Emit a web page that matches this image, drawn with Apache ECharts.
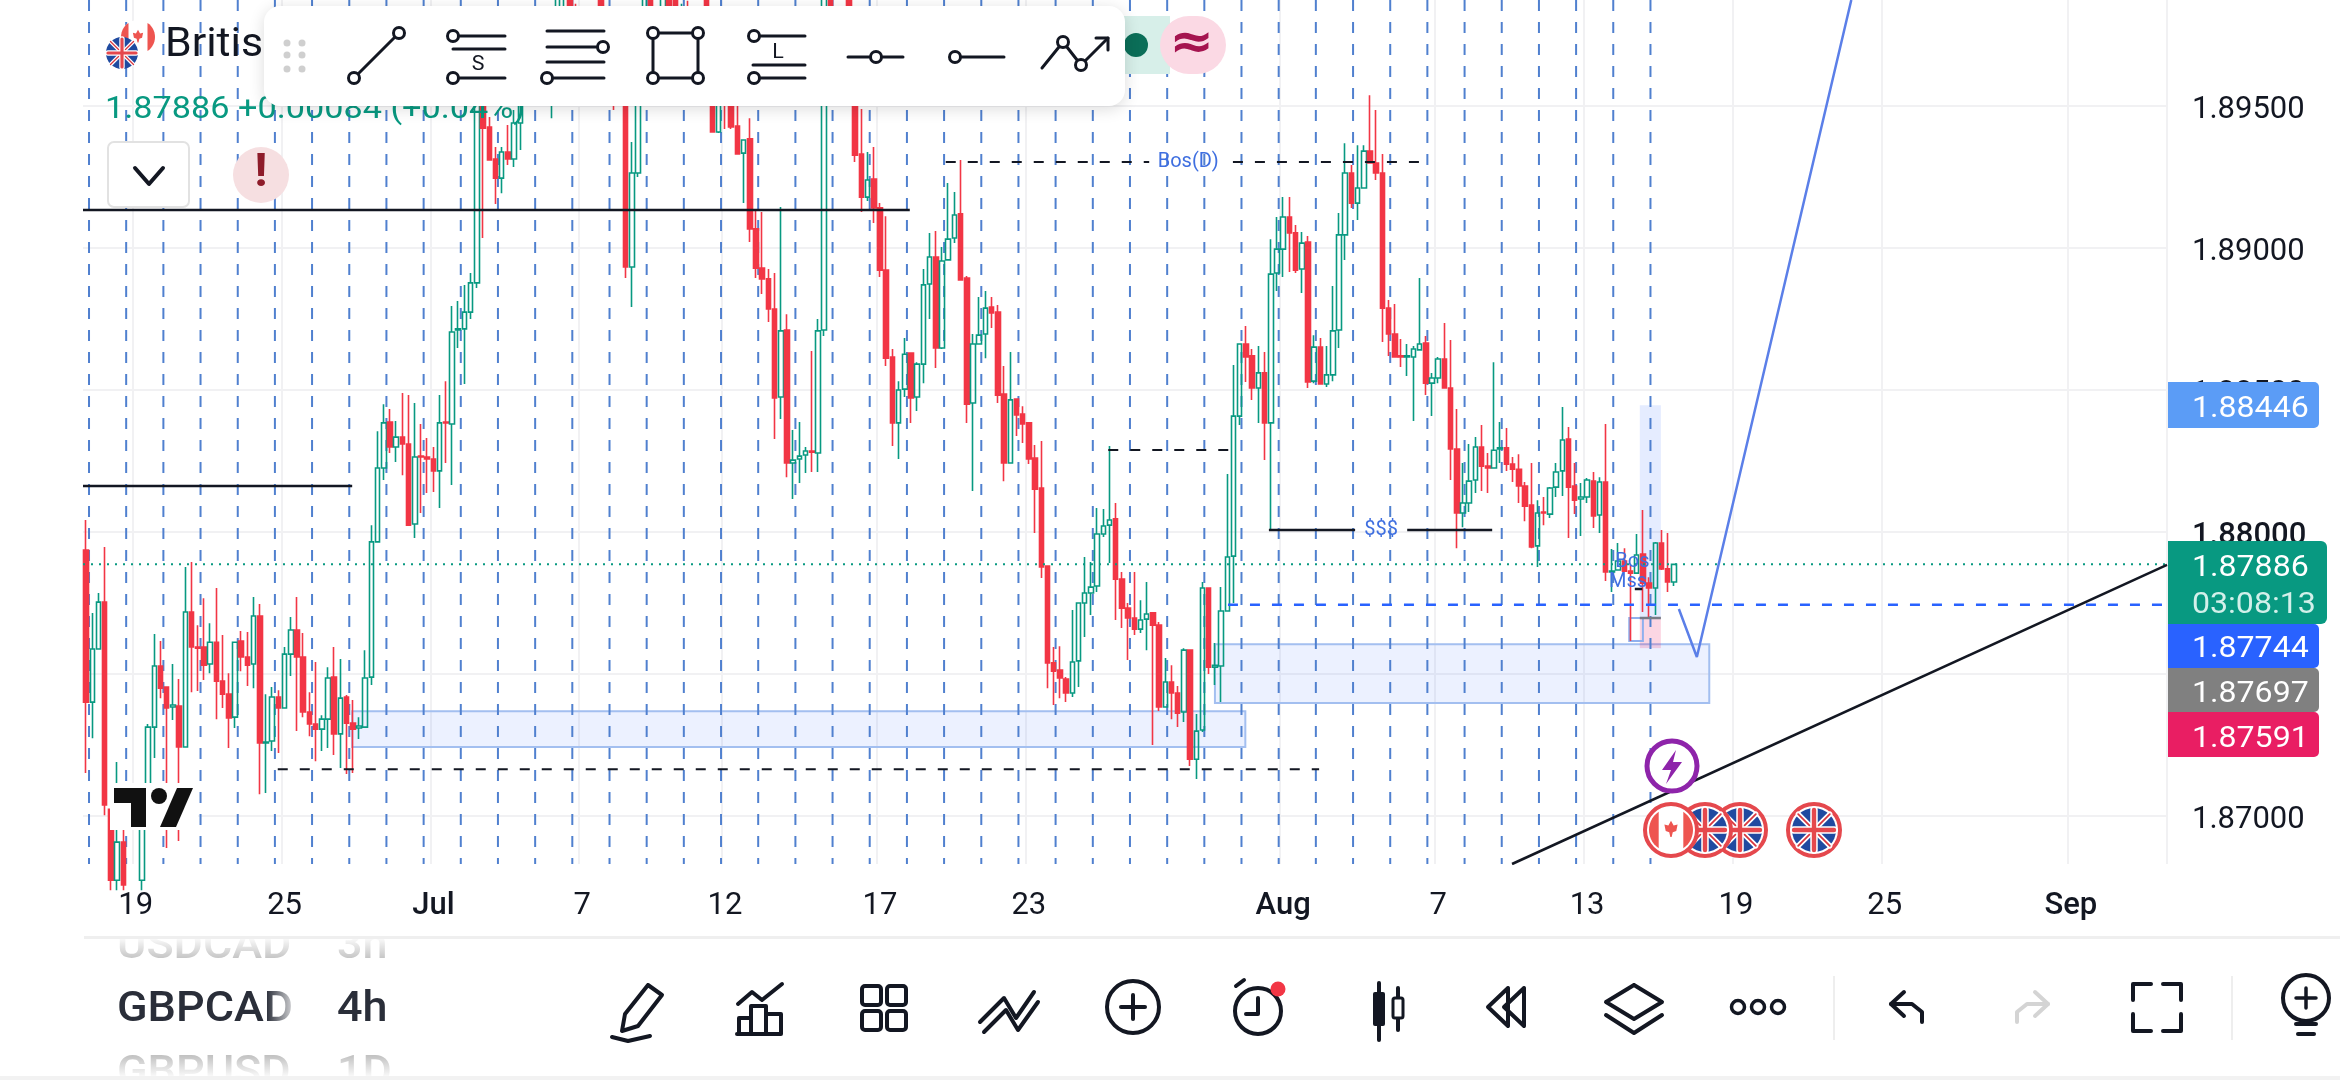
<!DOCTYPE html>
<html><head><meta charset="utf-8">
<style>html,body{margin:0;padding:0;background:#fff;overflow:hidden}#c{width:2340px;height:1080px}</style>
<script src="https://cdn.jsdelivr.net/npm/echarts@6/dist/echarts.min.js"></script>
</head><body><div id="c"></div>
<script>
const priceTicks=[1.87,1.875,1.88,1.885,1.89,1.895];
const dateTickBars=[8,32,56,80,103,128,152,193,218,242,266,290,320];
const dateTickLabels=['19','25','Jul','7','12','17','23','Aug','7','13','19','25','Sep'];
const opens=[1.87936,1.87401,1.87588,1.87753,1.87024,1.86774,1.86908,1.86810,1.86774,1.86774,
1.87056,1.87313,1.87528,1.87454,1.87384,1.87387,1.87243,1.87718,1.87595,1.87595,
1.87535,1.87612,1.87475,1.87429,1.87348,1.87616,1.87560,1.87535,1.87704,1.87257,
1.87264,1.87419,1.87380,1.87570,1.87655,1.87560,1.87366,1.87324,1.87306,1.87341,
1.87489,1.87289,1.87419,1.87327,1.87310,1.87313,1.87489,1.87965,1.88225,1.88387,
1.88299,1.88334,1.88310,1.88028,1.88267,1.88264,1.88257,1.88215,1.88387,1.88380,
1.88711,1.88715,1.88774,1.88877,1.89574,1.89426,1.89313,1.89246,1.89338,1.89313,
1.89440,1.89538,1.89530,1.89620,1.89700,1.89600,1.89760,1.89900,1.89960,1.89830,
1.89720,1.89780,1.89660,1.89900,1.89640,1.89690,1.89560,1.89538,1.88933,1.89264,
1.89540,1.89900,1.89730,1.89660,1.89930,1.89920,1.89780,1.89840,1.89720,1.89780,
1.89900,1.89538,1.89408,1.89560,1.89530,1.89429,1.89334,1.89384,1.89067,1.88929,
1.88891,1.88785,1.88475,1.88711,1.88243,1.88257,1.88271,1.88285,1.88278,1.88711,
1.89900,1.89720,1.89640,1.89900,1.89660,1.89331,1.89179,1.89243,1.89141,1.88922,
1.88616,1.88384,1.88503,1.88630,1.88475,1.88591,1.88873,1.88968,1.88648,1.88958,
1.89035,1.89120,1.88894,1.88454,1.88662,1.88697,1.88792,1.88774,1.88486,1.88243,
1.88468,1.88415,1.88384,1.88260,1.88155,1.87880,1.87539,1.87514,1.87482,1.87433,
1.87546,1.87750,1.87785,1.87810,1.87993,1.88024,1.88046,1.87834,1.87732,1.87697,
1.87658,1.87693,1.87715,1.87672,1.87384,1.87472,1.87433,1.87366,1.87584,1.87200,
1.87303,1.87803,1.87524,1.87528,1.87722,1.87915,1.88408,1.88662,1.88620,1.88507,
1.88560,1.88384,1.88912,1.88996,1.89109,1.89053,1.88926,1.89021,1.88531,1.88651,
1.88521,1.88553,1.88711,1.89046,1.89264,1.89158,1.89211,1.89341,1.89299,1.89264,
1.88788,1.88697,1.88620,1.88616,1.88616,1.88641,1.88665,1.88524,1.88542,1.88609,
1.88507,1.88292,1.88067,1.88102,1.88183,1.88299,1.88232,1.88225,1.88292,1.88296,
1.88239,1.88221,1.88162,1.88095,1.87951,1.88070,1.88063,1.88158,1.88215,1.88327,
1.88162,1.88116,1.88123,1.88179,1.88060,1.88176,1.87859,1.87866,1.87898,1.87862,
1.87855,1.87922,1.87820,1.87803,1.87961,1.87870,1.87824];
const highs=[1.88042,1.87715,1.87785,1.87947,1.87024,1.87190,1.86975,1.86830,1.86830,1.87091,
1.87324,1.87641,1.87616,1.87454,1.87535,1.87482,1.87877,1.87894,1.87672,1.87767,
1.87679,1.87803,1.87637,1.87503,1.87612,1.87651,1.87648,1.87771,1.87746,1.87429,
1.87454,1.87443,1.87595,1.87701,1.87771,1.87644,1.87436,1.87542,1.87355,1.87524,
1.87595,1.87553,1.87426,1.87408,1.87348,1.87584,1.88024,1.88355,1.88450,1.88433,
1.88391,1.88489,1.88482,1.88454,1.88380,1.88331,1.88299,1.88482,1.88531,1.88796,
1.88813,1.88870,1.88912,1.89609,1.89609,1.89461,1.89355,1.89355,1.89433,1.89486,
1.89574,1.89600,1.89650,1.89730,1.89740,1.89780,1.89950,1.89990,1.90000,1.89860,
1.89800,1.89820,1.89720,1.89980,1.89720,1.89730,1.89620,1.89574,1.89373,1.89574,
1.89950,1.89940,1.89760,1.89960,1.89990,1.89980,1.89860,1.89870,1.89800,1.89840,
1.89980,1.89600,1.89600,1.89620,1.89600,1.89521,1.89380,1.89457,1.89137,1.89127,
1.88926,1.88912,1.89144,1.88767,1.88359,1.88387,1.88299,1.88637,1.88750,1.89950,
1.89950,1.89760,1.89720,1.89980,1.89700,1.89489,1.89338,1.89355,1.89158,1.89112,
1.88644,1.88531,1.88683,1.88630,1.88598,1.88926,1.89053,1.89060,1.89003,1.89229,
1.89197,1.89310,1.88901,1.88697,1.88827,1.88848,1.88827,1.88799,1.88584,1.88634,
1.88468,1.88443,1.88387,1.88306,1.88320,1.87880,1.87595,1.87598,1.87489,1.87725,
1.87750,1.87912,1.87894,1.88084,1.88081,1.88303,1.88102,1.87859,1.87750,1.87859,
1.87760,1.87824,1.87715,1.87683,1.87556,1.87531,1.87458,1.87591,1.87584,1.87359,
1.87824,1.87803,1.87609,1.87806,1.88204,1.88588,1.88662,1.88725,1.88644,1.88655,
1.88634,1.89031,1.89109,1.89179,1.89179,1.89081,1.89056,1.89042,1.88693,1.88683,
1.88655,1.88866,1.89123,1.89369,1.89292,1.89362,1.89362,1.89538,1.89486,1.89331,
1.88817,1.88803,1.88679,1.88662,1.88655,1.88894,1.88690,1.88560,1.88616,1.88736,
1.88676,1.88433,1.88243,1.88310,1.88334,1.88377,1.88278,1.88598,1.88387,1.88366,
1.88264,1.88274,1.88176,1.88243,1.88112,1.88123,1.88158,1.88243,1.88440,1.88370,
1.88243,1.88172,1.88190,1.88211,1.88193,1.88380,1.87940,1.87961,1.87943,1.87884,
1.87993,1.88077,1.87841,1.87965,1.88007,1.87996,1.87886];
const lows=[1.87151,1.87274,1.87588,1.87003,1.86739,1.86739,1.86739,1.86740,1.86740,1.86739,
1.87056,1.87204,1.87415,1.86887,1.87338,1.86912,1.87243,1.87436,1.87440,1.87479,
1.87503,1.87341,1.87380,1.87239,1.87310,1.87510,1.87458,1.87450,1.87077,1.87081,
1.87229,1.87222,1.87380,1.87493,1.87299,1.87348,1.87281,1.87193,1.87229,1.87239,
1.87215,1.87169,1.87148,1.87151,1.87271,1.87313,1.87461,1.87965,1.88183,1.88278,
1.88246,1.88200,1.88024,1.87979,1.88067,1.88137,1.88141,1.88084,1.88243,1.88165,
1.88648,1.88521,1.88750,1.88859,1.89035,1.89310,1.89155,1.89193,1.89292,1.89285,
1.89345,1.89520,1.89515,1.89600,1.89560,1.89457,1.89700,1.89820,1.89800,1.89700,
1.89680,1.89640,1.89590,1.89600,1.89610,1.89486,1.89530,1.88894,1.88792,1.89250,
1.89520,1.89700,1.89640,1.89640,1.89800,1.89760,1.89740,1.89700,1.89680,1.89640,
1.89640,1.89408,1.89405,1.89419,1.89419,1.89331,1.89158,1.89021,1.88894,1.88838,
1.88739,1.88327,1.88398,1.88193,1.88116,1.88172,1.88208,1.88211,1.88211,1.88690,
1.89700,1.89600,1.89600,1.89620,1.89303,1.89127,1.89165,1.89088,1.88898,1.88584,
1.88303,1.88257,1.88475,1.88384,1.88426,1.88524,1.88750,1.88577,1.88644,1.88958,
1.89017,1.88887,1.88384,1.88144,1.88662,1.88612,1.88718,1.88454,1.88179,1.88243,
1.88338,1.88313,1.88239,1.87996,1.87838,1.87450,1.87391,1.87415,1.87401,1.87419,
1.87454,1.87630,1.87708,1.87789,1.87982,1.87891,1.87690,1.87662,1.87549,1.87637,
1.87644,1.87584,1.87250,1.87370,1.87384,1.87341,1.87313,1.87331,1.87176,1.87130,
1.87296,1.87500,1.87461,1.87401,1.87722,1.87750,1.88377,1.88528,1.88465,1.88384,
1.88253,1.88007,1.88848,1.88898,1.88915,1.88912,1.88841,1.88507,1.88524,1.88521,
1.88510,1.88531,1.88648,1.88958,1.89141,1.89098,1.89211,1.89299,1.89239,1.88669,
1.88620,1.88616,1.88581,1.88549,1.88391,1.88641,1.88482,1.88408,1.88524,1.88507,
1.88183,1.87943,1.88017,1.88070,1.88137,1.88144,1.88137,1.88225,1.88243,1.88215,
1.88176,1.88102,1.88038,1.87943,1.87877,1.88024,1.88049,1.88123,1.88127,1.87979,
1.88063,1.87986,1.88102,1.88014,1.87996,1.87827,1.87789,1.87866,1.87859,1.87616,
1.87855,1.87718,1.87697,1.87708,1.87866,1.87789,1.87810];
const closes=[1.87401,1.87588,1.87753,1.87039,1.86774,1.86908,1.86757,1.86774,1.86810,1.87056,
1.87313,1.87528,1.87450,1.87380,1.87391,1.87243,1.87718,1.87595,1.87591,1.87531,
1.87612,1.87475,1.87429,1.87345,1.87612,1.87560,1.87531,1.87704,1.87257,1.87260,
1.87419,1.87380,1.87570,1.87655,1.87560,1.87366,1.87324,1.87306,1.87341,1.87486,
1.87289,1.87415,1.87327,1.87306,1.87317,1.87486,1.87965,1.88225,1.88384,1.88299,
1.88334,1.88310,1.88024,1.88264,1.88264,1.88257,1.88215,1.88384,1.88384,1.88704,
1.88715,1.88774,1.88877,1.89574,1.89422,1.89310,1.89246,1.89338,1.89313,1.89440,
1.89538,1.89530,1.89620,1.89700,1.89600,1.89760,1.89900,1.89960,1.89830,1.89720,
1.89780,1.89660,1.89610,1.89640,1.89690,1.89560,1.89600,1.88933,1.89264,1.89538,
1.89900,1.89730,1.89660,1.89930,1.89830,1.89780,1.89840,1.89720,1.89780,1.89680,
1.89700,1.89408,1.89560,1.89530,1.89426,1.89331,1.89380,1.89067,1.88929,1.88891,
1.88785,1.88472,1.88708,1.88243,1.88253,1.88267,1.88285,1.88281,1.88708,1.89900,
1.89720,1.89640,1.89690,1.89660,1.89327,1.89179,1.89239,1.89141,1.88922,1.88612,
1.88384,1.88500,1.88626,1.88472,1.88591,1.88870,1.88968,1.88648,1.88954,1.89031,
1.89116,1.88887,1.88450,1.88662,1.88693,1.88788,1.88771,1.88482,1.88243,1.88465,
1.88412,1.88380,1.88257,1.88151,1.87877,1.87539,1.87510,1.87486,1.87433,1.87542,
1.87750,1.87785,1.87806,1.87993,1.88021,1.88042,1.87834,1.87732,1.87697,1.87658,
1.87690,1.87711,1.87672,1.87384,1.87472,1.87433,1.87362,1.87584,1.87200,1.87299,
1.87803,1.87524,1.87531,1.87722,1.87912,1.88408,1.88662,1.88616,1.88507,1.88560,
1.88384,1.88908,1.88996,1.89109,1.89053,1.88922,1.89017,1.88528,1.88651,1.88521,
1.88553,1.88708,1.89046,1.89264,1.89158,1.89211,1.89341,1.89299,1.89264,1.88788,
1.88697,1.88616,1.88616,1.88620,1.88644,1.88662,1.88524,1.88542,1.88609,1.88507,
1.88292,1.88067,1.88102,1.88179,1.88299,1.88232,1.88225,1.88288,1.88296,1.88239,
1.88221,1.88162,1.88091,1.87947,1.88067,1.88067,1.88155,1.88211,1.88324,1.88158,
1.88112,1.88123,1.88183,1.88056,1.88176,1.87859,1.87862,1.87898,1.87862,1.87855,
1.87919,1.87820,1.87803,1.87961,1.87870,1.87824,1.87886];
const dayBreaks=[0.97,6.96,12.96,18.95,24.95,30.94,36.93,42.93,48.92,54.92,60.91,66.9,72.9,78.89,84.89,90.88,96.87,102.87,108.86,114.86,120.85,126.84,132.84,138.83,144.83,150.82,156.81,162.81,168.8,174.8,180.79,186.78,192.78,198.77,204.77,210.76,216.75,222.75,228.74,234.74,240.73,246.72,252.72];
const lastPrice=1.87886, alertPrice=1.87744;
const zoneEdges=[[43.4,1.87369,187.4,1.87243],[182.5,1.87605,262.2,1.87398],[251.0,1.88446,254.4,1.87697],[251.0,1.87697,254.4,1.87591],[249.3,1.87697,251.5,1.87616]];
const zoneFills=['rgba(41,98,255,0.09)','rgba(41,98,255,0.09)','rgba(41,98,255,0.12)','rgba(233,30,99,0.18)','rgba(0,0,0,0)'];
const zoneStrokes=['#a3bff0','#a3bff0',null,null,'#8fb0ee'];
const noteTexts=['Bos(D)','$$$','Bos','Mss'];
const noteBars=[178.2,209.3,249.8,249.1];
const notePrices=[1.89303,1.88007,1.87894,1.87824];

const yMin=1.86831,yMax=1.89873,barCount=336;
const categories=new Array(barCount).fill('');
dateTickBars.forEach((b,i)=>categories[b]=dateTickLabels[i]);
const candles=opens.map((o,i)=>[o,closes[i],lows[i],highs[i]]);
const seg=(pts,color,width,type)=>({type:'line',xAxisIndex:1,yAxisIndex:0,data:pts,symbol:'none',silent:true,z:5,clip:true,animation:false,lineStyle:{color,width,type:type||'solid'}});
const black='#131722';

/* overlay helpers */
const Z=100;
const pl=(pts,c='#131722',w=4)=>({type:'polyline',z:Z,shape:{points:pts},style:{stroke:c,lineWidth:w,fill:null,lineCap:'round',lineJoin:'round'}});
const ci=(x,y,r,fill='#fff',c='#131722',w=3)=>({type:'circle',z:Z,shape:{cx:x,cy:y,r},style:{fill,stroke:c,lineWidth:w}});
const re=(x,y,w,h,fill,r=0,extra={})=>({type:'rect',z:Z,shape:{x,y,width:w,height:h,r},style:Object.assign({fill},extra)});
const po=(pts,fill)=>({type:'polygon',z:Z,shape:{points:pts},style:{fill}});
const tx=(x,y,text,font,fill,align='left')=>({type:'text',z:Z,x,y:y+3,scaleX:1.07,style:{text,font,fill,textAlign:align,textVerticalAlign:'middle',align,verticalAlign:'middle'}});
function ukFlag(x,y,r,ring){
  const n=[];
  if(ring){n.push(ci(x,y,r+4,'#fff','#e5484d',4));}
  const d=r*0.72;
  n.push(ci(x,y,r,'#1f4aa0',null,0));
  n.push(pl([[x-d,y-d],[x+d,y+d]],'#fff',r*0.24),pl([[x-d,y+d],[x+d,y-d]],'#fff',r*0.24));
  n.push(pl([[x-d,y-d],[x+d,y+d]],'#d9363e',r*0.08),pl([[x-d,y+d],[x+d,y-d]],'#d9363e',r*0.08));
  n.push(pl([[x-r+2,y],[x+r-2,y]],'#fff',r*0.34),pl([[x,y-r+2],[x,y+r-2]],'#fff',r*0.34));
  n.push(pl([[x-r+2,y],[x+r-2,y]],'#e5484d',r*0.2),pl([[x,y-r+2],[x,y+r-2]],'#e5484d',r*0.2));
  return n;
}
function caSeg(x,y,r,s){
  const pts=[];
  for(let a=-56;a<=56;a+=8){pts.push([x+s*r*Math.cos(a*Math.PI/180),y+r*Math.sin(a*Math.PI/180)]);}
  return po(pts,'#ee5550');
}
function caFlag(x,y,r,ring){
  const n=[];
  if(ring){n.push(ci(x,y,r+4,'#fff','#e5484d',4));}
  else n.push(ci(x,y,r,'#fff',null,0));
  n.push(caSeg(x,y,r,1),caSeg(x,y,r,-1),
   po([[x,y-r*.42],[x+r*.12,y-r*.2],[x+r*.3,y-r*.25],[x+r*.24,y+r*.05],[x+r*.08,y+r*.1],[x+r*.03,y+r*.32],[x-r*.03,y+r*.32],[x-r*.08,y+r*.1],[x-r*.24,y+r*.05],[x-r*.3,y-r*.25],[x-r*.12,y-r*.2]],'#ee5550'));
  return n;
}
const G=[];
/* legend */
G.push(...caFlag(138,37,17,false),...ukFlag(122,53,16,false));
G.push(tx(165,43,'British Pound','40px Roboto','#131722'));
G.push(tx(105,107,'1.87886 +0.00084 (+0.04%)','32px Roboto','#089981'));
/* pills behind the toolbar */
G.push(re(1100,16,70,58,'#d7efe9',0));
G.push(ci(1136,45,12,'#0b6e58',null,0));
G.push(re(1160,16,66,58,'#fbd9e4',29));
G.push(tx(1192,42,'\u2248','bold 50px "DejaVu Sans"','#a5144f','center'));
/* toolbar */
G.push(re(264,6,861,100,'#fff',16,{shadowBlur:16,shadowColor:'rgba(0,0,0,0.14)',shadowOffsetY:3}));
[[287,43],[302,43],[287,55],[302,55],[287,69],[302,69]].forEach(p=>G.push(ci(p[0],p[1],3.5,'#cfcfcf',null,0)));
const T='#131722';
G.push(pl([[399,33],[354,78]],T,3),ci(399,33,5.5),ci(354,78,5.5));
G.push(pl([[453,36],[505,36]],T,3),pl([[453,49],[505,49]],T,3),pl([[453,78],[505,78]],T,3),ci(453,36,5.5),ci(453,78,5.5),tx(478,62,'S','20px Roboto',T,'center'));
G.push(pl([[547,31],[604,31]],T,3),pl([[547,47],[604,47]],T,3),pl([[547,62],[604,62]],T,3),pl([[547,78],[604,78]],T,3),ci(603,47,5.5),ci(547,78,5.5));
G.push(pl([[653,33],[698,33],[698,78],[653,78],[653,33]],T,3),ci(653,33,5.5),ci(698,33,5.5),ci(653,78,5.5),ci(698,78,5.5));
G.push(pl([[754,36],[805,36]],T,3),pl([[753,65],[805,65]],T,3),pl([[754,78],[805,78]],T,3),ci(754,36,5.5),ci(754,78,5.5),tx(778,50,'L','20px Roboto',T,'center'));
G.push(pl([[848,57],[903,57]],T,3),ci(876,57,5.5));
G.push(pl([[955,57],[1004,57]],T,3),ci(955,57,5.5));
G.push(pl([[1042,68],[1063,42],[1081,65],[1108,38]],T,3),pl([[1096,38],[1108,38],[1108,50]],T,3),ci(1063,42,5.5),ci(1081,65,5.5));
/* chevron + alert */
G.push(re(108,142,81,65,'#fff',6,{stroke:'#e2e2e2',lineWidth:2}));
G.push(pl([[135,168],[149,184],[163,168]],'#131722',4));
G.push(ci(261,175,28,'#f6dfe1',null,0),tx(261,171,'!','bold 46px Roboto','#8e1c2a','center'));
/* TradingView mark */
G.push(re(110,783,88,47,'#fff'));
G.push(po([[114,788],[146,788],[146,827],[131,827],[131,803],[114,803]],'#111'),ci(159,796,8,'#111',null,0),po([[177,788],[193,788],[176,827],[160,827]],'#111'));
/* events */
G.push(ci(1672,766,25,'#fff','#8e24aa',5),po([[1676,750],[1662,770],[1671,770],[1666,784],[1682,762],[1673,762]],'#8e24aa'));
G.push(...ukFlag(1814,830,22,true),...ukFlag(1740,830,22,true),...ukFlag(1705,830,22,true),...caFlag(1671,830,22,true));
/* price tags */
G.push(re(2168,382,151,46,'#5b9cf6',[0,5,5,0]),tx(2192,406,'1.88446','30px Roboto','#fff'));
G.push(re(2168,624,151,44,'#2962ff',[0,5,5,0]),tx(2192,646,'1.87744','30px Roboto','#fff'));
G.push(re(2168,668,151,44,'#808080',[0,5,5,0]),tx(2192,691,'1.87697','30px Roboto','#fff'));
G.push(re(2168,712,151,45,'#e91e63',[0,5,5,0]),tx(2192,736,'1.87591','30px Roboto','#fff'));
G.push(re(2168,541,159,83,'#089981',[0,6,6,0]),tx(2192,565,'1.87886','30px Roboto','#fff'),tx(2192,602,'03:08:13','30px Roboto','#d3f0ea'));
/* footer */
G.push(tx(117,944,'USDCAD','500 42px Roboto','#b9b9b9'),tx(337,944,'3h','500 42px Roboto','#b9b9b9'));
G.push({type:'rect',z:Z,shape:{x:84,y:939,width:330,height:24},style:{fill:{type:'linear',x:0,y:0,x2:0,y2:1,colorStops:[{offset:0,color:'rgba(255,255,255,0.9)'},{offset:1,color:'rgba(255,255,255,0)'}]}}});
G.push(re(84,915,330,21,'#fff'));
G.push(re(84,936,2256,3,'#efefef'));
G.push(tx(117,1007,'GBPCAD','500 42px Roboto','#2a2e39'),tx(337,1007,'4h','500 42px Roboto','#2a2e39'));
G.push({type:'rect',z:Z,shape:{x:266,y:980,width:34,height:54},style:{fill:{type:'linear',x:0,y:0,x2:1,y2:0,colorStops:[{offset:0,color:'rgba(255,255,255,0)'},{offset:1,color:'rgba(255,255,255,1)'}]}}});
G.push(tx(117,1071,'GBPUSD','500 42px Roboto','#b9b9b9'),tx(337,1071,'1D','500 42px Roboto','#b9b9b9'));
G.push({type:'rect',z:Z,shape:{x:84,y:1052,width:330,height:24},style:{fill:{type:'linear',x:0,y:0,x2:0,y2:1,colorStops:[{offset:0,color:'rgba(255,255,255,0)'},{offset:1,color:'rgba(255,255,255,0.9)'}]}}});
G.push(re(0,1076,2340,4,'#f2f2f2'));
/* footer icons */
const I='#131722';
G.push(pl([[648,985],[662,995],[638,1026],[622,1031],[625,1014],[648,985]],I,4),pl([[612,1037],[628,1041],[650,1036]],I,4));
G.push(pl([[738,1004],[752,992],[762,1000],[782,984]],I,4),pl([[739,1034],[739,1018],[751,1018],[751,1034]],I,4),pl([[751,1034],[751,1006],[766,1006],[766,1034]],I,4),pl([[766,1034],[766,1014],[781,1014],[781,1034],[737,1034]],I,4));
[[862,986],[887,986],[862,1011],[887,1011]].forEach(p=>G.push(re(p[0],p[1],19,19,'rgba(0,0,0,0)',3,{stroke:I,lineWidth:4})));
G.push(pl([[980,1022],[1004,998],[1016,1018],[1034,992]],I,4),pl([[984,1032],[1006,1010],[1018,1030],[1038,1002]],I,4));
G.push(ci(1133,1007,26,'#fff',I,4),pl([[1133,995],[1133,1019]],I,4),pl([[1121,1007],[1145,1007]],I,4));
G.push(ci(1258,1011,23,'#fff',I,4),pl([[1258,998],[1258,1014],[1246,1014]],I,4),pl([[1236,986],[1244,980]],I,4),ci(1278,989,7.5,'#f23645',null,0));
G.push(pl([[1379,983],[1379,1040]],I,4),re(1373,992,12,34,I,2),pl([[1398,988],[1398,1030]],I,4),re(1393,998,10,20,'#fff',2,{stroke:I,lineWidth:3}));
G.push(pl([[1508,988],[1488,1007],[1508,1026],[1508,988]],I,4),pl([[1524,988],[1504,1007],[1524,1026],[1524,988]],I,4));
G.push(pl([[1634,985],[1662,1002],[1634,1019],[1606,1002],[1634,985]],I,4),pl([[1606,1015],[1634,1033],[1662,1015]],I,4));
G.push(ci(1738,1007,6.5,'#fff',I,3.5),ci(1758,1007,6.5,'#fff',I,3.5),ci(1778,1007,6.5,'#fff',I,3.5));
G.push(re(1833,976,2,64,'#eeeeee'),re(2231,976,2,64,'#eeeeee'));
G.push(pl([[1904,992],[1891,1004],[1904,1016]],I,4),pl([[1891,1004],[1912,1004],[1922,1012],[1922,1022]],I,4));
const R='#d4d4d4';
G.push(pl([[2035,992],[2048,1004],[2035,1016]],R,4),pl([[2048,1004],[2027,1004],[2017,1012],[2017,1022]],R,4));
G.push(pl([[2133,1000],[2133,984],[2151,984]],I,4),pl([[2163,984],[2181,984],[2181,1000]],I,4),pl([[2133,1014],[2133,1031],[2151,1031]],I,4),pl([[2163,1031],[2181,1031],[2181,1014]],I,4));
G.push(ci(2306,998,23,'#fff',I,4),pl([[2306,988],[2306,1008]],I,3.5),pl([[2296,998],[2316,998]],I,3.5),pl([[2296,1024],[2316,1024]],I,4),pl([[2298,1034],[2314,1034]],I,4));

const option={
 animation:false,backgroundColor:'#fff',
 grid:{left:83,top:0,width:2084,height:864,containLabel:false},
 xAxis:[
  {type:'category',data:categories,boundaryGap:true,position:'bottom',
   axisLine:{show:false},axisTick:{show:false},
   splitLine:{show:true,interval:(i,v)=>v!=='',lineStyle:{color:'#f1f1f3',width:2}},
   axisLabel:{interval:(i,v)=>v!=='',color:'#131722',fontFamily:'Roboto',fontSize:31,margin:27,hideOverlap:false,
    formatter:v=>/[A-Za-z]/.test(v)?'{m|'+v+'}':v,rich:{m:{fontFamily:'Roboto',fontSize:31,fontWeight:500,color:'#131722'}}}},
  {type:'value',min:0,max:barCount,show:false,splitLine:{show:false}}
 ],
 yAxis:[{type:'value',position:'right',min:yMin,max:yMax,
   axisLine:{show:false},
   axisTick:{show:false,customValues:priceTicks},
   splitLine:{show:true,lineStyle:{color:'#f1f1f3',width:2}},
   axisLabel:{customValues:priceTicks,formatter:v=>v===1.88?'{b|1.88000}':v.toFixed(5),color:'#131722',fontFamily:'Roboto',fontSize:31,margin:25,align:'left',padding:[9,0,0,0],
    rich:{b:{fontFamily:'Roboto',fontSize:31,fontWeight:500,color:'#131722'}}}}],
 series:[
  {type:'custom',name:'zones',xAxisIndex:1,yAxisIndex:0,silent:true,z:1,clip:true,data:zoneEdges,encode:{x:[0,2],y:[1,3]},
   renderItem(p,api){const a=api.coord([api.value(0),api.value(1)]),b=api.coord([api.value(2),api.value(3)]);
    const s=zoneStrokes[p.dataIndex];
    return {type:'rect',shape:{x:a[0],y:a[1],width:b[0]-a[0],height:b[1]-a[1]},style:{fill:zoneFills[p.dataIndex],stroke:s||null,lineWidth:s?2:0}};}},
  {type:'custom',name:'dayBreaks',xAxisIndex:1,yAxisIndex:0,silent:true,z:1,clip:true,data:dayBreaks.map(u=>[u,yMax]),encode:{x:0,y:1},
   renderItem(p,api){const a=api.coord([api.value(0),yMax]),b=api.coord([api.value(0),yMin]);
    return {type:'line',shape:{x1:a[0],y1:a[1],x2:b[0],y2:b[1]},style:{stroke:'#5080cf',lineWidth:2,lineDash:[11,11]}};}},
  {type:'candlestick',name:'GBPCAD',xAxisIndex:0,yAxisIndex:0,data:candles,barWidth:5,z:3,clip:true,silent:true,
   itemStyle:{color:'rgba(255,255,255,0)',color0:'#f23645',borderColor:'#089981',borderColor0:'#f23645',borderWidth:1.6}},
  seg([[0,1.89134],[133.3,1.89134]],black,2.5),
  seg([[0,1.88162],[43.4,1.88162]],black,2.5),
  seg([[139.1,1.89303],[171.9,1.89303]],black,2,[10,12]),
  seg([[185.4,1.89303],[215.6,1.89303]],black,2,[10,12]),
  seg([[165.3,1.88289],[184.9,1.88289]],black,2,[10,12]),
  seg([[31.4,1.87165],[199.3,1.87165]],black,2,[10,12]),
  seg([[191.2,1.88007],[205.1,1.88007]],black,2.5),
  seg([[213.5,1.88007],[227.2,1.88007]],black,2.5),
  seg([[250.2,1.87799],[251.4,1.87799]],black,2.5),
  seg([[251.0,1.87697],[254.4,1.87697]],'#787b86',2.5),
  seg([[0,lastPrice],[barCount,lastPrice]],'#089981',2,[2,6]),
  seg([[184.6,alertPrice],[barCount,alertPrice]],'#2962ff',2.5,[10,12]),
  seg([[230.4,1.86831],[336,1.87884]],black,2.5),
  seg([[257.3,1.87729],[260.2,1.8756],[285.1,1.89873]],'#5b7fe8',2.5),
  {type:'custom',name:'notes',xAxisIndex:1,yAxisIndex:0,silent:true,z:6,clip:true,data:noteBars.map((u,i)=>[u,notePrices[i]]),encode:{x:0,y:1},
   renderItem(p,api){const a=api.coord([api.value(0),api.value(1)]);
    return {type:'text',x:a[0],y:a[1],style:{text:noteTexts[p.dataIndex],fill:'#3f6fe0',font:'20px Roboto',align:'center',verticalAlign:'middle',textAlign:'center',textVerticalAlign:'middle'}};}}
 ],
 graphic:{elements:G}
};
echarts.init(document.getElementById('c'),null,{renderer:'canvas',width:2340,height:1080}).setOption(option);
</script></body></html>
